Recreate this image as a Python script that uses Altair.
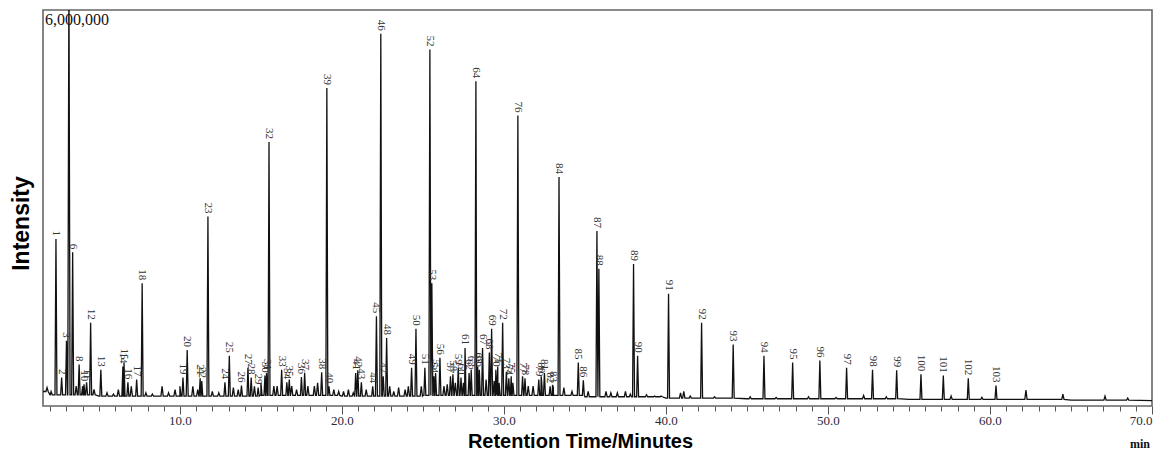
import altair as alt
import pandas as pd
import numpy as np

# ---- data ----
peak_labels = [str(n) for n in [1, 2, 3, 6, 8, 10, 11, 12, 13, 14, 15, 16, 17, 18, 19, 20, 21, 22, 23,
                                24, 25, 26, 27, 28, 29, 30, 31, 32, 33, 34, 35, 36, 37, 38, 39, 40, 41,
                                42, 43, 44, 45, 46, 47, 48, 49, 50, 51, 52, 53, 54, 55, 56, 57, 58, 59,
                                60, 61, 62, 63, 64, 65, 66, 67, 68, 69, 70, 71, 72, 73, 74, 75, 76, 77,
                                78, 79, 80, 81, 82, 83, 84, 85, 86, 87, 88, 89, 90, 91, 92, 93, 94, 95,
                                96, 97, 98, 99, 100, 101, 102, 103]]
peak_times = [2.35, 2.70, 3.00, 3.38, 3.78, 4.08, 4.24, 4.49, 5.12, 6.48, 6.55, 6.79, 7.33, 7.67, 10.19,
              10.45, 11.25, 11.35, 11.73, 12.78, 13.05, 13.80, 14.20, 14.40, 14.83, 15.25, 15.35, 15.50,
              16.28, 16.60, 16.75, 17.50, 17.70, 18.75, 19.07, 19.20, 20.85, 20.98, 21.20, 21.90, 22.13,
              22.40, 22.55, 22.76, 24.30, 24.57, 25.12, 25.43, 25.55, 25.68, 25.78, 26.05, 26.70, 26.85,
              27.18, 27.35, 27.60, 27.85, 27.98, 28.27, 28.38, 28.48, 28.68, 29.10, 29.24, 29.50, 29.62,
              29.92, 30.15, 30.30, 30.45, 30.86, 31.15, 31.30, 32.15, 32.30, 32.50, 32.85, 33.00, 33.40,
              34.59, 34.90, 35.74, 35.86, 38.00, 38.25, 40.16, 42.20, 44.15, 46.05, 47.82, 49.50, 51.15,
              52.75, 54.24, 55.74, 57.12, 58.66, 60.37]
peak_heights = [2.53, 0.43, 0.99, 2.33, 0.63, 0.33, 0.36, 1.26, 0.55, 0.60, 0.66, 0.36, 0.40, 1.86, 0.43,
                0.85, 0.42, 0.38, 2.87, 0.36, 0.76, 0.31, 0.58, 0.43, 0.28, 0.46, 0.50, 4.00, 0.55, 0.36,
                0.40, 0.44, 0.50, 0.51, 4.82, 0.30, 0.50, 0.54, 0.36, 0.30, 1.36, 5.64, 0.45, 1.03, 0.58,
                1.17, 0.58, 5.40, 1.86, 0.45, 0.50, 0.73, 0.45, 0.48, 0.58, 0.43, 0.88, 0.50, 0.55, 4.92,
                0.60, 0.55, 0.88, 0.81, 1.17, 0.55, 0.60, 1.26, 0.52, 0.42, 0.45, 4.40, 0.45, 0.42, 0.40,
                0.45, 0.50, 0.30, 0.32, 3.47, 0.66, 0.39, 2.65, 2.08, 2.15, 0.76, 1.70, 1.26, 0.93, 0.76,
                0.66, 0.69, 0.58, 0.55, 0.54, 0.48, 0.46, 0.42, 0.31]  # millions

# unlabeled peaks (solvent peak + small bumps)
minor_times = [1.80, 2.05, 3.15, 3.60, 4.00, 4.70, 5.50, 5.90, 6.20, 7.00, 7.90, 8.30, 8.90, 9.30, 9.70,
               10.00, 10.80, 11.10, 12.00, 12.40, 13.30, 13.60, 14.60, 15.00, 15.80, 16.00, 16.90, 17.20,
               17.90, 18.30, 18.50, 19.50, 19.80, 20.10, 20.40, 20.70, 21.50, 22.95, 23.20, 23.50, 23.90,
               24.10, 24.90, 26.30, 26.50, 27.00, 27.50, 28.00, 28.90, 29.40, 29.70, 30.55, 31.50, 31.80,
               32.35, 33.05, 33.70, 34.20, 35.20, 36.30, 36.60, 37.00, 37.50, 37.80, 38.80, 39.30, 39.70,
               40.90, 41.10, 41.50, 43.00, 45.20, 46.80, 48.80, 50.50, 52.20, 53.60, 57.60, 59.50, 62.22,
               64.50, 67.10, 68.50]
minor_heights = [0.28, 0.22, 6.50, 0.30, 0.30, 0.25, 0.20, 0.18, 0.25, 0.30, 0.20, 0.18, 0.30, 0.20, 0.25,
                 0.30, 0.30, 0.25, 0.22, 0.20, 0.28, 0.25, 0.30, 0.35, 0.30, 0.30, 0.30, 0.25, 0.30, 0.30,
                 0.35, 0.25, 0.22, 0.22, 0.25, 0.20, 0.25, 0.30, 0.22, 0.28, 0.25, 0.30, 0.30, 0.30, 0.33,
                 0.35, 0.35, 0.40, 0.40, 0.38, 0.35, 0.35, 0.30, 0.30, 0.30, 0.28, 0.28, 0.22, 0.22, 0.22,
                 0.20, 0.20, 0.22, 0.18, 0.17, 0.15, 0.15, 0.20, 0.22, 0.15, 0.14, 0.14, 0.13, 0.14, 0.13,
                 0.16, 0.14, 0.15, 0.13, 0.24, 0.18, 0.15, 0.12]  # millions

baseline_times = [1.55, 2.0, 5.0, 10.0, 15.0, 20.0, 25.0, 30.0, 35.0, 40.0, 45.0, 50.0, 55.0, 60.0, 65.0, 70.0]
baseline_levels = [0.22, 0.17, 0.15, 0.15, 0.16, 0.15, 0.16, 0.16, 0.14, 0.12, 0.11, 0.11, 0.10, 0.10, 0.09, 0.08]

x_domain = [1.55, 70.0]
y_full_scale = 6000000
y_full_scale_label = "6,000,000"
tick_minutes = list(range(2, 71))

# ---- build the trace table ----
bt = np.array(baseline_times)
bl = np.array(baseline_levels) * 1e6


def foot(t):
    idx = max(0, int(np.searchsorted(bt, t, side="right")) - 1)
    return bl[idx]


rows = [(t, v) for t, v in zip(bt, bl)]
for times, heights, w in [(peak_times, peak_heights, 0.06), (minor_times, minor_heights, 0.07)]:
    for t, h in zip(times, heights):
        b = foot(t)
        rows += [(t - w, b), (t, h * 1e6), (t + w, b)]
trace = pd.DataFrame(rows, columns=["t", "i"]).sort_values("t", kind="stable").reset_index(drop=True)
trace["seq"] = np.arange(len(trace))

labels_df = pd.DataFrame({"t": peak_times, "i": [h * 1e6 for h in peak_heights], "lab": peak_labels})
scale_df = pd.DataFrame({"t": [x_domain[0]], "i": [y_full_scale], "lab": [y_full_scale_label]})
min_df = pd.DataFrame({"t": [x_domain[1]], "i": [0], "lab": ["min"]})

W, H = 1109, 396
xs = alt.Scale(domain=x_domain, nice=False, zero=False)
ys = alt.Scale(domain=[0, y_full_scale], nice=False, zero=True)

x_axis = alt.Axis(
    values=tick_minutes,
    labelExpr="datum.value % 10 === 0 ? format(datum.value, '.1f') : ''",
    labelOverlap=False,
    labelFlush=True,
    labelFont="Liberation Serif",
    labelFontSize=13,
    labelColor="#2a2a3a",
    labelPadding=0,
    tickColor="#555",
    tickWidth=1,
    tickSize={"condition": {"test": "datum.value % 10 === 0", "value": 8}, "value": 5},
    domain=False,
    grid=False,
    title="Retention Time/Minutes",
    titleFont="Liberation Sans",
    titleFontSize=20,
    titleFontWeight="bold",
    titleColor="#000",
    titleX=537,
    titleY=41,
    titleAlign="center",
    titleBaseline="alphabetic",
)
y_axis = alt.Axis(
    labels=False, ticks=False, domain=False, grid=False,
    title="Intensity",
    titleFont="Liberation Sans",
    titleFontSize=23,
    titleFontWeight="bold",
    titleColor="#000",
    titleX=-22,
    titleY=213,
    titleAlign="center",
    titleBaseline="middle",
)

X = alt.X("t:Q", scale=xs, axis=x_axis)
Y = alt.Y("i:Q", scale=ys, axis=y_axis)

line = alt.Chart(trace).mark_line(color="#111", strokeWidth=1.3, clip=True).encode(
    x=X, y=Y, order=alt.Order("seq:Q"),
)

labels = alt.Chart(labels_df).mark_text(
    angle=90, align="right", baseline="middle", dx=-3,
    font="Liberation Serif", fontSize=11, color="#333",
).encode(x=X, y=Y, text="lab:N")

scale_text = alt.Chart(scale_df).mark_text(
    align="left", baseline="top", dx=2, dy=2,
    font="Liberation Serif", fontSize=16, color="#111",
).encode(x=X, y=Y, text="lab:N")

min_text = alt.Chart(min_df).mark_text(
    align="center", baseline="alphabetic", dx=-12, dy=42,
    font="Liberation Serif", fontSize=12, fontWeight="bold", color="#111",
).encode(x=X, y=Y, text="lab:N")

chart = alt.layer(line, labels, scale_text, min_text).properties(
    width=W, height=H,
    autosize=alt.AutoSizeParams(type="none"),
    padding={"left": 35, "top": 2, "right": 2, "bottom": 46},
    background="white",
).configure_view(stroke="#666", strokeWidth=1.6)

chart.save("out.html", embed_options={"renderer": "svg", "actions": False})
